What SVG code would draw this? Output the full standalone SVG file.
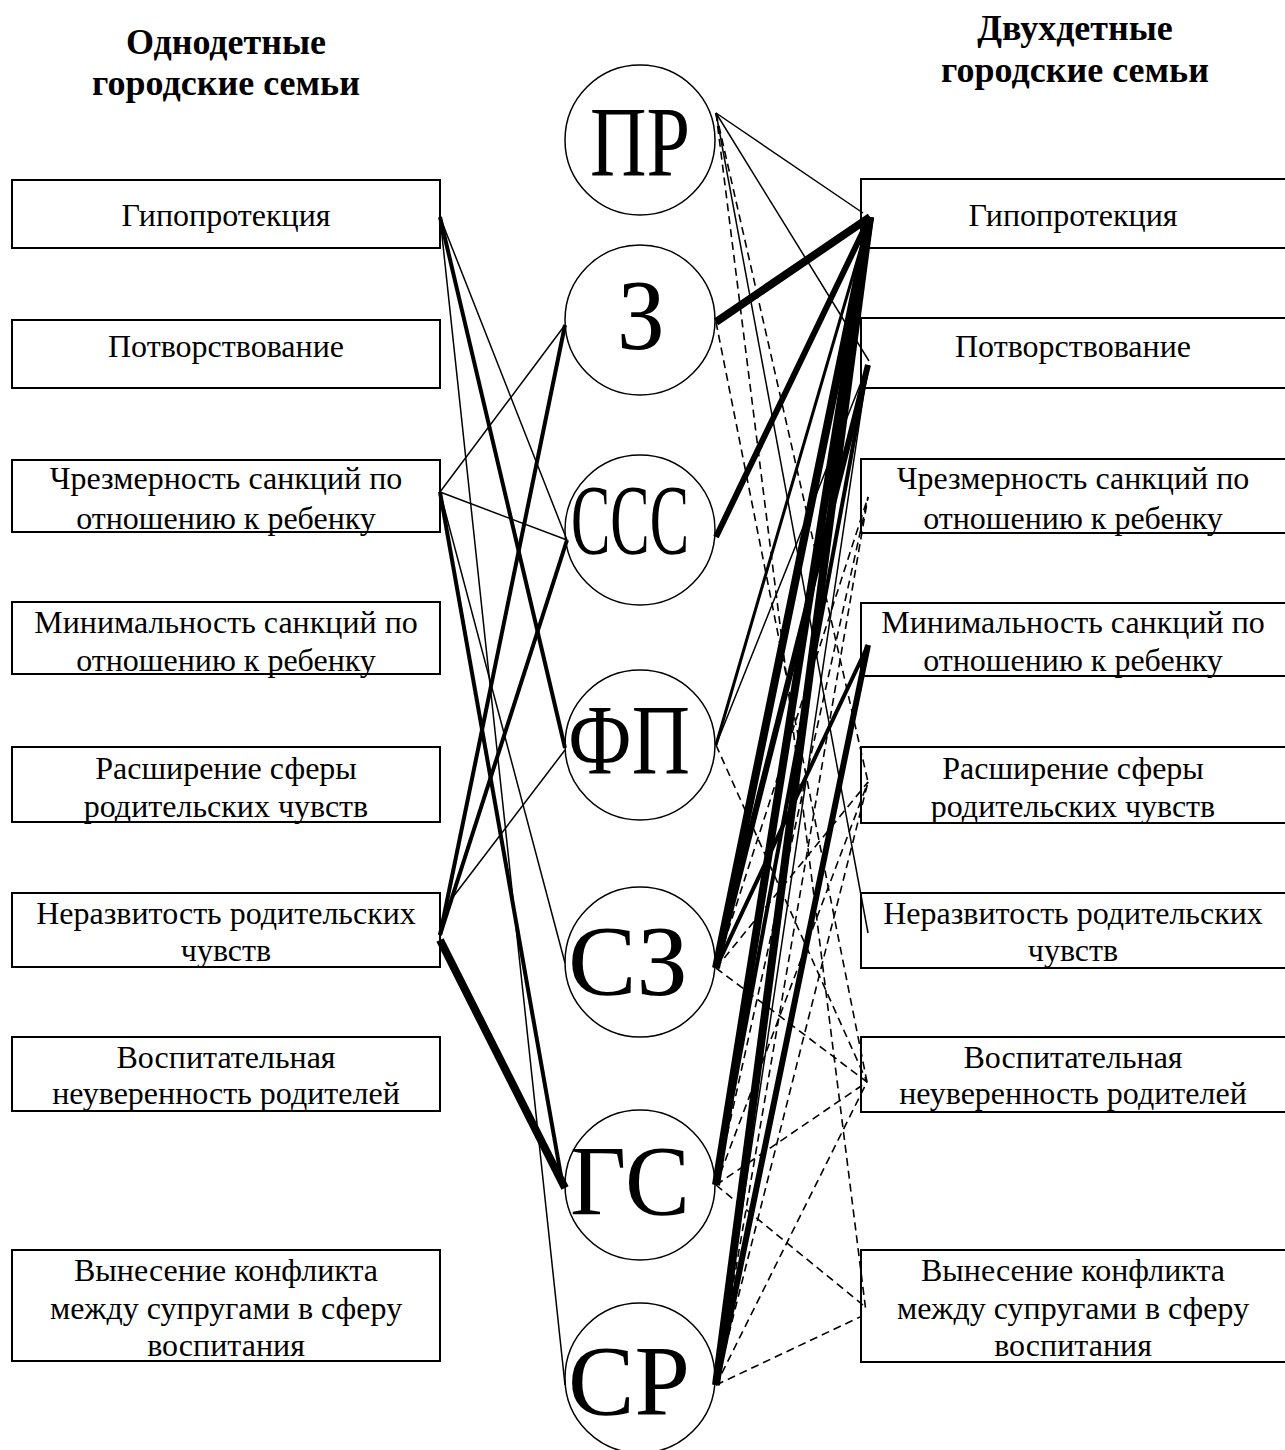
<svg xmlns="http://www.w3.org/2000/svg" width="1285" height="1450" viewBox="0 0 1285 1450">
<style>
.bg{fill:#fff}
.box{fill:#fff;stroke:#000;stroke-width:2}
.circ{fill:#fff;stroke:#000;stroke-width:1.5}
.t{font-family:"Liberation Serif","Times New Roman",serif;font-size:32px;text-anchor:middle;fill:#000}
.h{font-family:"Liberation Serif","Times New Roman",serif;font-size:36px;font-weight:bold;text-anchor:middle;fill:#000}
.c{font-family:"Liberation Serif","Times New Roman",serif;font-size:100px;text-anchor:middle;fill:#000}
.conn line{stroke:#000;stroke-linecap:butt}
.w1{stroke-width:1.5}
.w2{stroke-width:3}
.w3{stroke-width:4}
.w5{stroke-width:6}
.w6{stroke-width:8}
.d{stroke-width:1.6;stroke-dasharray:8 5}
</style>
<rect class="bg" x="0" y="0" width="1285" height="1450"/>

<g id="header-left">
<text class="h" x="226" y="54">Однодетные</text>
<text class="h" x="226" y="95">городские семьи</text>
</g>
<g id="header-right">
<text class="h" x="1075" y="40">Двухдетные</text>
<text class="h" x="1075" y="82">городские семьи</text>
</g>

<g id="left-1"><rect class="box" x="12" y="180" width="428" height="68"/><text class="t" x="226" y="226">Гипопротекция</text></g>
<g id="left-2"><rect class="box" x="12" y="320" width="428" height="68"/><text class="t" x="226" y="357">Потворствование</text></g>
<g id="left-3"><rect class="box" x="12" y="460" width="428" height="72"/><text class="t" x="226" y="489">Чрезмерность санкций по</text><text class="t" x="226" y="529">отношению к ребенку</text></g>
<g id="left-4"><rect class="box" x="12" y="602" width="428" height="72"/><text class="t" x="226" y="633">Минимальность санкций по</text><text class="t" x="226" y="671">отношению к ребенку</text></g>
<g id="left-5"><rect class="box" x="12" y="747" width="428" height="75"/><text class="t" x="226" y="779">Расширение сферы</text><text class="t" x="226" y="817">родительских чувств</text></g>
<g id="left-6"><rect class="box" x="12" y="893" width="428" height="74"/><text class="t" x="226" y="924">Неразвитость родительских</text><text class="t" x="226" y="961">чувств</text></g>
<g id="left-7"><rect class="box" x="12" y="1037" width="428" height="74"/><text class="t" x="226" y="1068">Воспитательная</text><text class="t" x="226" y="1104">неуверенность родителей</text></g>
<g id="left-8"><rect class="box" x="12" y="1250" width="428" height="111"/><text class="t" x="226" y="1281">Вынесение конфликта</text><text class="t" x="226" y="1319">между супругами в сферу</text><text class="t" x="226" y="1356">воспитания</text></g>

<g id="right-1"><rect class="box" x="861" y="179" width="428" height="69"/><text class="t" x="1073" y="226">Гипопротекция</text></g>
<g id="right-2"><rect class="box" x="861" y="318" width="428" height="70"/><text class="t" x="1073" y="357">Потворствование</text></g>
<g id="right-3"><rect class="box" x="861" y="459" width="428" height="74"/><text class="t" x="1073" y="489">Чрезмерность санкций по</text><text class="t" x="1073" y="529">отношению к ребенку</text></g>
<g id="right-4"><rect class="box" x="861" y="603" width="428" height="73"/><text class="t" x="1073" y="633">Минимальность санкций по</text><text class="t" x="1073" y="671">отношению к ребенку</text></g>
<g id="right-5"><rect class="box" x="861" y="747" width="428" height="76"/><text class="t" x="1073" y="779">Расширение сферы</text><text class="t" x="1073" y="817">родительских чувств</text></g>
<g id="right-6"><rect class="box" x="861" y="893" width="428" height="75"/><text class="t" x="1073" y="924">Неразвитость родительских</text><text class="t" x="1073" y="961">чувств</text></g>
<g id="right-7"><rect class="box" x="861" y="1037" width="428" height="75"/><text class="t" x="1073" y="1068">Воспитательная</text><text class="t" x="1073" y="1104">неуверенность родителей</text></g>
<g id="right-8"><rect class="box" x="861" y="1250" width="428" height="112"/><text class="t" x="1073" y="1281">Вынесение конфликта</text><text class="t" x="1073" y="1319">между супругами в сферу</text><text class="t" x="1073" y="1356">воспитания</text></g>

<g id="c-PR"><circle class="circ" cx="640" cy="140" r="75"/><text class="c" x="640" y="175" textLength="100" lengthAdjust="spacingAndGlyphs">ПР</text></g>
<g id="c-Z"><circle class="circ" cx="640" cy="320" r="75"/><text class="c" x="641" y="348" font-size="86" textLength="48" lengthAdjust="spacingAndGlyphs">З</text></g>
<g id="c-SSS"><circle class="circ" cx="640" cy="530" r="75"/><text class="c" x="630" y="553" textLength="118" lengthAdjust="spacingAndGlyphs">ССС</text></g>
<g id="c-FP"><circle class="circ" cx="640" cy="745" r="75"/><text class="c" x="629" y="773" textLength="122" lengthAdjust="spacingAndGlyphs">ФП</text></g>
<g id="c-SZ"><circle class="circ" cx="640" cy="962" r="75"/><text class="c" x="628" y="994" textLength="120" lengthAdjust="spacingAndGlyphs">СЗ</text></g>
<g id="c-GS"><circle class="circ" cx="640" cy="1185" r="75"/><text class="c" x="630" y="1214" textLength="120" lengthAdjust="spacingAndGlyphs">ГС</text></g>
<g id="c-SR"><circle class="circ" cx="640" cy="1378" r="75"/><text class="c" x="629" y="1414" textLength="122" lengthAdjust="spacingAndGlyphs">СР</text></g>

<g id="connectors" class="conn">
<!-- left side -->
<line class="w1" x1="440" y1="217" x2="567" y2="540"/>
<line class="w3" x1="440" y1="217" x2="565" y2="748"/>
<line class="w1" x1="440" y1="217" x2="565" y2="1385"/>
<line class="w1" x1="440" y1="492" x2="565" y2="325"/>
<line class="w1" x1="440" y1="492" x2="567" y2="540"/>
<line class="w1" x1="440" y1="492" x2="565" y2="963"/>
<line class="w3" x1="440" y1="492" x2="563" y2="1187"/>
<line class="w3" x1="440" y1="935" x2="565" y2="325"/>
<line class="w3" x1="440" y1="935" x2="567" y2="540"/>
<line class="w1" x1="453" y1="897" x2="565" y2="750"/>
<line class="w6" x1="440" y1="940" x2="565" y2="1188"/>
<!-- right side: ПР -->
<line class="w1" x1="716" y1="113" x2="863" y2="213"/>
<line class="w1" x1="716" y1="113" x2="869" y2="361"/>
<line class="w1" x1="716" y1="113" x2="868" y2="933"/>
<line class="d" x1="716" y1="113" x2="868" y2="782"/>
<line class="d" x1="716" y1="113" x2="866" y2="1312"/>
<!-- З -->
<line class="w6" x1="716" y1="322" x2="870" y2="217"/>
<line class="d" x1="716" y1="322" x2="867" y2="1082"/>
<!-- ССС -->
<line class="w5" x1="716" y1="537" x2="870" y2="217"/>
<!-- ФП -->
<line class="w2" x1="716" y1="745" x2="870" y2="217"/>
<line class="w1" x1="716" y1="745" x2="868" y2="365"/>
<line class="d" x1="716" y1="745" x2="867" y2="1082"/>
<!-- СЗ -->
<line class="w6" x1="716" y1="968" x2="870" y2="217"/>
<line class="w5" x1="716" y1="968" x2="868" y2="365"/>
<line class="w3" x1="716" y1="968" x2="868" y2="645"/>
<line class="d" x1="716" y1="968" x2="868" y2="497"/>
<line class="d" x1="716" y1="968" x2="868" y2="782"/>
<line class="d" x1="716" y1="968" x2="867" y2="1082"/>
<!-- ГС -->
<line class="w6" x1="716" y1="1185" x2="870" y2="217"/>
<line class="w3" x1="716" y1="1185" x2="868" y2="365"/>
<line class="d" x1="716" y1="1185" x2="868" y2="497"/>
<line class="d" x1="716" y1="1185" x2="868" y2="782"/>
<line class="d" x1="716" y1="1185" x2="867" y2="1082"/>
<line class="d" x1="716" y1="1185" x2="863" y2="1305"/>
<!-- СР -->
<line class="w6" x1="716" y1="1385" x2="870" y2="217"/>
<line class="w1" x1="716" y1="1385" x2="868" y2="365"/>
<line class="w5" x1="716" y1="1385" x2="868" y2="645"/>
<line class="d" x1="716" y1="1385" x2="868" y2="497"/>
<line class="d" x1="716" y1="1385" x2="868" y2="782"/>
<line class="d" x1="716" y1="1385" x2="867" y2="1082"/>
<line class="d" x1="716" y1="1385" x2="860" y2="1317"/>
</g>
</svg>
